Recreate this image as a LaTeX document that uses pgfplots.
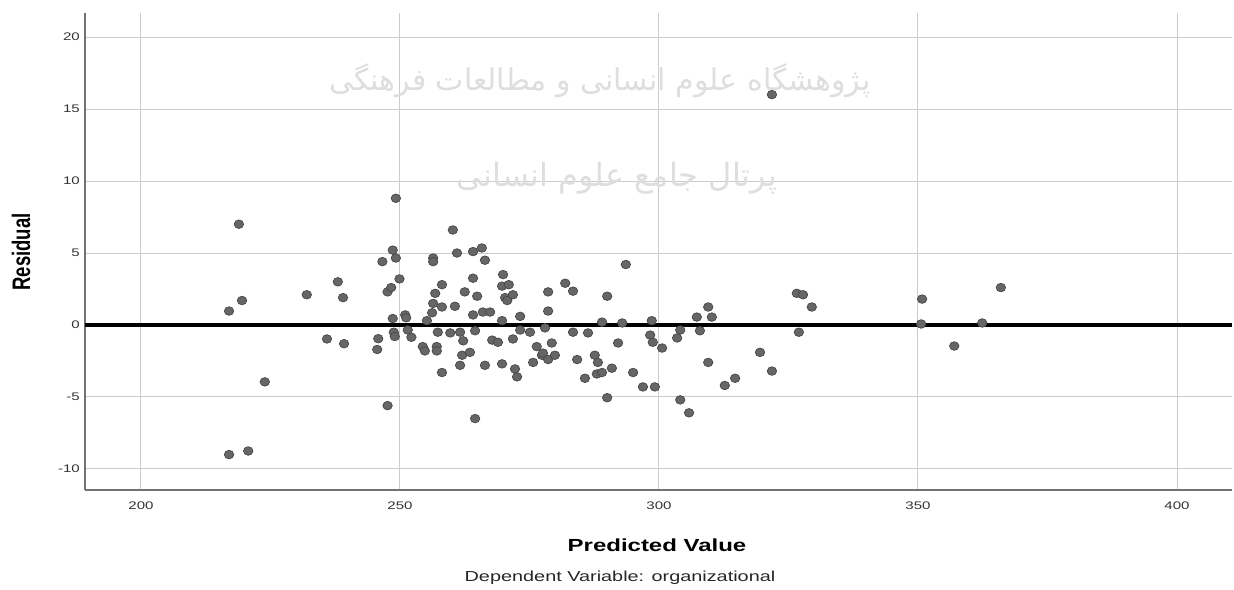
\documentclass[border=0pt]{standalone}
\usepackage{pgfplots}
\pgfplotsset{compat=1.18}
\usepackage{pgfplotstable}
\usepackage{graphicx}
\usepackage{fontspec}
\setmainfont{Liberation Sans}
\newfontfamily\arabicfont[Script=Arabic]{DejaVu Sans}
\TeXXeTstate=1
% the original image is stretched sideways, so text is widened to match
\newcommand\hs[1]{\scalebox{1.37}[1]{#1}}

\pgfplotstableread{
x y
217.0 -9.0
220.7 -8.75
217.0 0.97
219.5 1.7
218.9 7.0
223.9 -3.95
232.0 2.1
235.9 -0.97
238.0 3.0
239.0 1.9
239.2 -1.3
245.6 -1.7
245.8 -0.95
246.6 4.4
247.6 -5.6
247.6 2.3
248.3 2.6
248.6 5.2
249.2 4.65
249.2 8.8
249.9 3.2
248.6 0.45
248.8 -0.5
249.0 -0.8
251.0 0.7
251.2 0.5
251.5 -0.35
252.2 -0.85
255.2 0.3
256.2 0.85
256.4 1.5
256.4 4.65
256.4 4.4
256.8 2.2
257.3 -0.5
257.1 -1.5
257.1 -1.8
254.4 -1.5
254.8 -1.8
258.1 2.8
258.1 1.25
258.1 -3.3
259.7 -0.55
260.2 6.6
260.6 1.3
261.0 5.0
261.6 -0.5
261.6 -2.8
262.0 -2.1
262.2 -1.1
262.5 2.3
263.5 -1.9
264.1 5.1
264.1 3.25
264.1 0.7
264.5 -0.4
264.5 -6.5
264.9 2.0
265.8 5.35
266.0 0.9
266.4 4.5
266.4 -2.8
267.4 0.9
267.8 -1.05
268.9 -1.2
269.7 2.7
269.7 0.3
269.7 -2.7
269.9 3.5
270.3 1.9
270.7 1.7
271.0 2.8
271.8 2.1
271.8 -0.97
272.2 -3.05
272.6 -3.6
273.2 0.6
273.2 -0.35
275.1 -0.5
275.7 -2.6
276.4 -1.5
277.4 -2.1
277.6 -1.95
278.0 -0.2
278.6 2.3
278.6 0.97
278.6 -2.4
279.3 -1.25
279.9 -2.1
281.9 2.9
283.4 2.35
283.4 -0.5
284.2 -2.4
285.7 -3.7
286.3 -0.55
287.6 -2.1
288.0 -3.4
288.2 -2.6
289.0 0.2
289.0 -3.3
290.0 2.0
290.0 -5.05
290.9 -3.0
292.1 -1.25
292.9 0.14
293.6 4.2
295.0 -3.3
296.9 -4.3
298.3 -0.7
298.6 0.3
298.8 -1.2
299.2 -4.3
300.6 -1.6
303.5 -0.9
304.1 -0.35
304.1 -5.2
305.8 -6.1
307.3 0.55
307.9 -0.4
309.5 1.25
309.5 -2.6
310.2 0.55
312.7 -4.2
314.7 -3.7
319.5 -1.9
321.8 -3.2
321.8 16.0
326.6 2.2
327.8 2.1
329.5 1.25
327.0 -0.5
350.8 1.8
350.6 0.07
357.0 -1.46
362.4 0.14
366.0 2.6
}\resid

\begin{document}
\begin{tikzpicture}
\begin{axis}[
  scale only axis,
  width=1147pt, height=477pt,
  xmin=189.19, xmax=410.62,
  ymin=-11.46, ymax=21.67,
  axis x line*=bottom, axis y line*=left,
  axis line style={-, black!55, line width=1.5pt},
  xtick={200,250,300,350,400},
  xticklabels={\hs{200},\hs{250},\hs{300},\hs{350},\hs{400}},
  ytick={-10,-5,0,5,10,15,20},
  yticklabels={\hs{-10},\hs{-5},\hs{0},\hs{5},\hs{10},\hs{15},\hs{20}},
  major tick length=0pt,
  grid=major,
  major grid style={black!20, line width=1pt},
  ticklabel style={font=\fontsize{11}{13}\selectfont, text=black!80, inner sep=0pt},
  xticklabel style={yshift=-12pt},
  yticklabel style={xshift=-5pt},
  clip=false,
]
% faint watermark of the source
\node[text=black!13, font=\arabicfont\fontsize{30}{30}\selectfont]
  at (axis cs:288.6,17.0) {\beginR پژوهشگاه علوم انسانی و مطالعات فرهنگی\endR};
\node[text=black!13, font=\arabicfont\fontsize{32}{32}\selectfont]
  at (axis cs:291.9,10.2) {\beginR پرتال جامع علوم انسانی\endR};

\addplot[only marks, mark=*, mark size=4.3pt,
  mark options={fill=black!60, draw=black!72, line width=0.7pt, xscale=1.1}]
  table[x=x, y=y] {\resid};
\addplot[black, line width=3.2pt] coordinates {(189.19,0) (410.62,0)};
\end{axis}

\node[rotate=90, font=\bfseries\fontsize{18.5}{20}\selectfont]
  at ([xshift=-64pt, yshift=238pt]current axis.south west)
  {\scalebox{1}[1.37]{Residual}};
\node[font=\bfseries\fontsize{17.5}{20}\selectfont]
  at ([xshift=572pt, yshift=-55pt]current axis.south west)
  {\hs{Predicted Value}};
\node[font=\fontsize{14.5}{16}\selectfont, text=black!85]
  at ([xshift=535pt, yshift=-88pt]current axis.south west)
  {\hs{Dependent Variable: organizational}};
\path ([xshift=-85pt, yshift=-100pt]current axis.south west)
  rectangle ([xshift=2pt, yshift=13pt]current axis.north east);
\end{tikzpicture}
\end{document}
